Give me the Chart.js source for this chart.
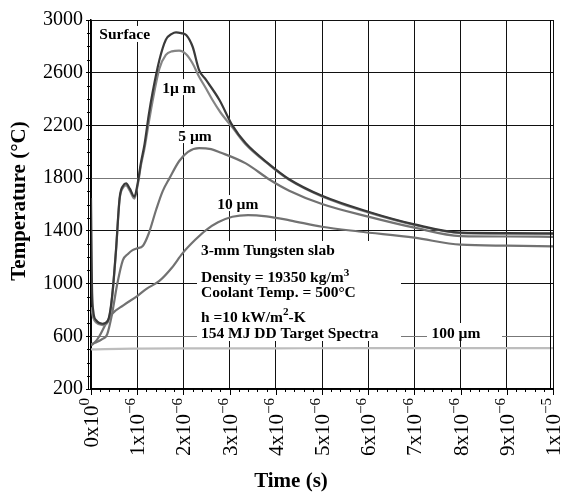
<!DOCTYPE html>
<html>
<head>
<meta charset="utf-8">
<script src="https://cdn.jsdelivr.net/npm/chart.js@4.4.0/dist/chart.umd.min.js"></script>
<style>
  html, body { margin: 0; padding: 0; background: #fff; }
</style>
</head>
<body>
<canvas id="tempChart" width="565" height="496"></canvas>
<script>
// time in microseconds, temperature in deg C
var surfaceTime = [0, 0.02, 0.05, 0.11, 0.25, 0.36, 0.42, 0.47, 0.54, 0.62, 0.70, 0.76, 0.84, 0.94, 1.01, 1.08, 1.16, 1.25, 1.33, 1.48, 1.62, 1.75, 1.84, 1.95, 2.06, 2.2, 2.34, 2.49, 2.78, 3.06, 3.35, 3.86, 4.29, 5.0, 6.0, 7.0, 8.0, 9.0, 10.0];
var surfaceTemp = [1650, 1000, 790, 722, 695, 715, 800, 950, 1250, 1650, 1745, 1760, 1720, 1660, 1760, 1915, 2060, 2280, 2444, 2696, 2850, 2895, 2906, 2900, 2886, 2797, 2620, 2545, 2393, 2200, 2064, 1905, 1792, 1666, 1545, 1449, 1386, 1383, 1381];

var oneMicronTime = [0, 0.05, 0.11, 0.25, 0.36, 0.42, 0.47, 0.54, 0.62, 0.70, 0.76, 0.84, 0.94, 1.01, 1.08, 1.16, 1.25, 1.33, 1.48, 1.62, 1.75, 1.91, 2.06, 2.2, 2.34, 2.49, 2.63, 2.8, 3.06, 3.35, 3.86, 4.29, 5.0, 6.0, 7.0, 8.0, 9.0, 10.0];
var oneMicronTemp = [820, 740, 705, 685, 705, 790, 940, 1240, 1640, 1730, 1745, 1705, 1645, 1745, 1895, 2030, 2220, 2380, 2630, 2735, 2762, 2767, 2740, 2670, 2570, 2480, 2393, 2300, 2185, 2055, 1900, 1787, 1661, 1540, 1445, 1383, 1379, 1377];

var fiveMicronTime = [0, 0.1, 0.25, 0.35, 0.45, 0.57, 0.69, 0.8, 0.9, 1.0, 1.12, 1.25, 1.41, 1.55, 1.70, 1.91, 2.1, 2.34, 2.6, 2.8, 3.35, 3.86, 4.29, 5.0, 6.0, 7.0, 8.0, 9.0, 10.0];
var fiveMicronTemp = [540, 552, 580, 615, 760, 1000, 1178, 1225, 1254, 1268, 1285, 1380, 1560, 1700, 1800, 1930, 2000, 2028, 2020, 1995, 1912, 1790, 1705, 1604, 1508, 1424, 1360, 1357, 1355];

var tenMicronTime = [0, 0.1, 0.18, 0.33, 0.47, 0.7, 1.0, 1.2, 1.48, 1.75, 1.98, 2.25, 2.49, 2.75, 3.06, 3.4, 3.8, 4.3, 5.0, 5.8, 7.0, 8.0, 9.0, 10.0];
var tenMicronTemp = [530, 560, 600, 700, 775, 835, 905, 960, 1020, 1120, 1229, 1330, 1406, 1465, 1507, 1520, 1510, 1480, 1431, 1395, 1348, 1295, 1288, 1283];

var hundredMicronTime = [0, 0.3, 1, 2, 4, 6, 8, 10];
var hundredMicronTemp = [500, 503, 506, 508, 509, 510, 510, 510];

// x tick labels: mantissa x 10^exponent
var xTickValues = [0, 1, 2, 3, 4, 5, 6, 7, 8, 9, 10];
var xTickMantissa = ['0', '1', '2', '3', '4', '5', '6', '7', '8', '9', '1'];
var xTickExponent = ['0', '−6', '−6', '−6', '−6', '−6', '−6', '−6', '−6', '−6', '−5'];

// labels inside the plot, anchored in data units (left edge, vertical middle)
var noteText = ['Surface', '1µ m', '5 µm', '10 µm', '3-mm Tungsten slab', 'Density = 19350 kg/m^3', 'Coolant Temp. = 500°C', 'h =10 kW/m^2-K', '154 MJ DD Target Spectra', '100 µm'];
var noteTime = [0.18, 1.54, 1.89, 2.73, 2.38, 2.38, 2.38, 2.38, 2.38, 7.37];
var noteTemp = [2894, 2491, 2127, 1611, 1262, 1050, 943, 753, 632, 632];

var serif = '"Liberation Serif", "Times New Roman", serif';

function toPoints(ts, vs) {
    var out = [];
    for (var i = 0; i < ts.length; i++) out.push({x: ts[i], y: vs[i]});
    return out;
}

// split "kg/m^3" or "10^{−6}" into normal / superscript pieces
function richParts(s) {
    var parts = [];
    var re = /\^\{([^}]*)\}|\^(.)/g;
    var last = 0, m;
    while ((m = re.exec(s)) !== null) {
        if (m.index > last) parts.push({t: s.slice(last, m.index), sup: false});
        parts.push({t: m[1] !== undefined ? m[1] : m[2], sup: true});
        last = re.lastIndex;
    }
    if (last < s.length) parts.push({t: s.slice(last), sup: false});
    return parts;
}

function richWidth(ctx, s, size, weight) {
    var w = 0;
    richParts(s).forEach(function(p) {
        ctx.font = weight + ' ' + (p.sup ? size * 0.72 : size) + 'px ' + serif;
        w += ctx.measureText(p.t).width;
    });
    return w;
}

// draws at x = left edge, y = baseline
function drawRich(ctx, s, x, y, size, weight) {
    ctx.textBaseline = 'alphabetic';
    ctx.textAlign = 'left';
    richParts(s).forEach(function(p) {
        ctx.font = weight + ' ' + (p.sup ? size * 0.72 : size) + 'px ' + serif;
        ctx.fillText(p.t, x, p.sup ? y - size * 0.42 : y);
        x += ctx.measureText(p.t).width;
    });
}

var decorPlugin = {
    id: 'decor',
    beforeDatasetsDraw: function(chart) {
        var ctx = chart.ctx, xs = chart.scales.x, ys = chart.scales.y;
        ctx.save();
        ctx.fillStyle = '#fff';
        // panel behind the slab description and the 100 um label
        ctx.fillRect(197, 241, 204, 100);
        ctx.fillRect(427, 323, 75, 18);
        // small patches behind the depth labels
        ctx.font = 'bold 15.5px ' + serif;
        for (var i = 0; i < 4; i++) {
            var w = ctx.measureText(noteText[i]).width;
            var px = xs.getPixelForValue(noteTime[i]);
            var py = ys.getPixelForValue(noteTemp[i]);
            ctx.fillRect(px - 2, py - 8, w + 4, 16);
        }
        ctx.restore();
    },
    afterDatasetsDraw: function(chart) {
        var ctx = chart.ctx, xs = chart.scales.x, ys = chart.scales.y;
        var area = chart.chartArea;
        ctx.save();
        ctx.fillStyle = '#000';
        // annotation text
        for (var i = 0; i < noteText.length; i++) {
            var px = xs.getPixelForValue(noteTime[i]);
            var py = ys.getPixelForValue(noteTemp[i]);
            drawRich(ctx, noteText[i], px, py + 5.5, 15.5, 'bold');
        }

        ctx.strokeStyle = '#000';
        ctx.lineWidth = 1;
        ctx.beginPath();
        // doubled left and right frame lines
        ctx.moveTo(area.left - 2.5, area.top); ctx.lineTo(area.left - 2.5, area.bottom);
        ctx.moveTo(area.right - 2.5, area.top); ctx.lineTo(area.right - 2.5, area.bottom);
        // minor y ticks every 100
        for (var v = 300; v < 3000; v += 100) {
            if ((v - 200) % 400 === 0) continue;
            var yy = Math.round(ys.getPixelForValue(v)) + 0.5;
            ctx.moveTo(area.left - 4, yy); ctx.lineTo(area.left, yy);
        }
        // x ticks: minor every 0.2 us, major every 1 us
        for (var k = 0; k <= 50; k++) {
            var xx = Math.round(xs.getPixelForValue(k * 0.2)) + 0.5;
            var len = (k % 5 === 0) ? 6 : 3;
            ctx.moveTo(xx, area.bottom); ctx.lineTo(xx, area.bottom + len);
        }
        ctx.stroke();

        // rotated x tick labels with superscript exponent
        for (var j = 0; j < xTickValues.length; j++) {
            var label = xTickMantissa[j] + 'x10^{' + xTickExponent[j] + '}';
            var lx = xs.getPixelForValue(xTickValues[j]);
            var w = richWidth(ctx, label, 21, 'normal');
            ctx.save();
            ctx.translate(lx, area.bottom + 9);
            ctx.rotate(-Math.PI / 2);
            drawRich(ctx, label, -w, 7, 21, 'normal');
            ctx.restore();
        }

        // axis titles
        ctx.font = 'bold 21px ' + serif;
        ctx.textAlign = 'center';
        ctx.textBaseline = 'middle';
        ctx.fillText('Time (s)', 291, 482);
        ctx.save();
        ctx.translate(20, 201);
        ctx.rotate(-Math.PI / 2);
        ctx.fillText('Temperature (°C)', 0, 0);
        ctx.restore();
        ctx.restore();
    }
};

var myContainer = document.getElementById('tempChart');
var myChart = new Chart(myContainer, {
    type: 'scatter',
    data: {
        datasets: [
            { label: 'Surface', data: toPoints(surfaceTime, surfaceTemp), borderColor: '#3a3a3a' },
            { label: '1 um', data: toPoints(oneMicronTime, oneMicronTemp), borderColor: '#858585' },
            { label: '5 um', data: toPoints(fiveMicronTime, fiveMicronTemp), borderColor: '#727272' },
            { label: '10 um', data: toPoints(tenMicronTime, tenMicronTemp), borderColor: '#727272' },
            { label: '100 um', data: toPoints(hundredMicronTime, hundredMicronTemp), borderColor: '#bdbdbd' }
        ]
    },
    options: {
        responsive: false,
        animation: false,
        devicePixelRatio: 1,
        layout: { padding: { top: 20, right: 12, bottom: 0, left: 0 } },
        plugins: { legend: { display: false }, tooltip: { enabled: false } },
        datasets: { scatter: { showLine: true } },
        elements: {
            point: { radius: 0 },
            line: { borderWidth: 2.2, cubicInterpolationMode: 'monotone', fill: false }
        },
        scales: {
            x: {
                type: 'linear', min: 0, max: 10,
                ticks: { display: false, stepSize: 1 },
                grid: { color: '#111', lineWidth: 1, drawTicks: false },
                border: { color: '#000', width: 1.5 },
                afterFit: function(s) { s.height = 107; }
            },
            y: {
                min: 200, max: 3000,
                ticks: {
                    stepSize: 400, color: '#000', padding: 3, font: { family: serif, size: 20 },
                    callback: function(v) { return String(v); }
                },
                grid: {
                    color: function(c) { return (c.tick.value === 1800 || c.tick.value === 600) ? '#777' : '#111'; },
                    tickColor: '#000', tickLength: 5, lineWidth: 1
                },
                border: { color: '#000', width: 1.5 },
                afterFit: function(s) { s.width = 91; }
            }
        }
    },
    plugins: [decorPlugin]
});
</script>
</body>
</html>
